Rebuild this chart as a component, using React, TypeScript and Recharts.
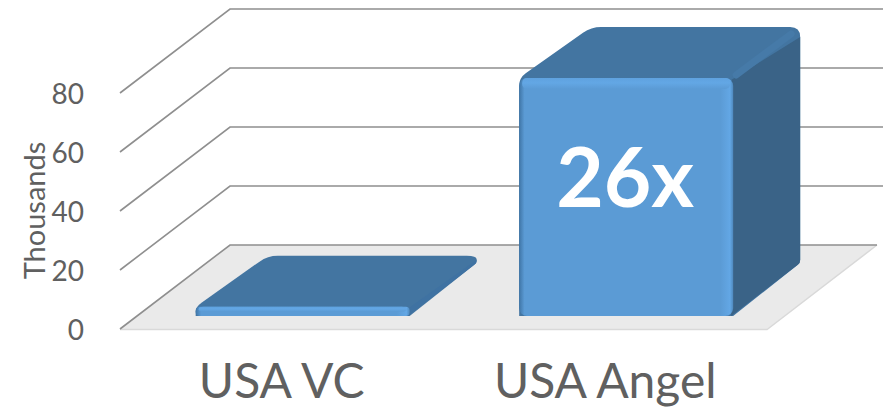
import { BarChart, Bar, XAxis, YAxis, Label } from "recharts";

const categories = ["USA VC", "USA Angel"];
const amounts = [3.1, 80.7];
const barLabels = ["", "26x"];
const yTicks = [0, 20, 40, 60, 80];

const chartData = categories.map((name, i) => ({
  name,
  amount: amounts[i],
  label: barLabels[i],
}));

const FONT = "Lato, 'Open Sans', sans-serif";
const TEXT_COLOR = "#606060";

// rounded polygon, used for the faces of the 3d box
function roundedPath(points: number[][], radii: number[]) {
  const n = points.length;
  let d = "";
  points.forEach((p, i) => {
    const prev = points[(i + n - 1) % n];
    const next = points[(i + 1) % n];
    const r = radii[i];
    const toward = (a: number[], b: number[]) => {
      const len = Math.hypot(b[0] - a[0], b[1] - a[1]) || 1;
      const k = Math.min(r, len / 2) / len;
      return [a[0] + (b[0] - a[0]) * k, a[1] + (b[1] - a[1]) * k];
    };
    const s = toward(p, prev);
    const e = toward(p, next);
    d += `${i === 0 ? "M" : "L"}${s[0]},${s[1]} Q${p[0]},${p[1]} ${e[0]},${e[1]} `;
  });
  return d + "Z";
}

function WallTick(props: any) {
  const { y, payload } = props;
  const isFloor = payload.value === 0;
  return (
    <g>
      {isFloor && (
        <>
          <polygon
            points={`120,${y} 230,${y - 84} 877,${y - 84} 767,${y}`}
            fill="#EAEAEA"
          />
          <polyline
            points={`120,${y + 0.5} 767,${y + 0.5} 877,${y - 84}`}
            fill="none"
            stroke="#D9D9D9"
            strokeWidth={1.5}
          />
        </>
      )}
      <polyline
        points={`120,${y} 230,${y - 84} ${isFloor ? 877 : 883},${y - 84}`}
        fill="none"
        stroke="#8F8F8F"
        strokeWidth={1.6}
      />
      <text
        x={84}
        y={y + 1}
        dy="0.35em"
        textAnchor="end"
        fontFamily={FONT}
        fontSize={28}
        fill={TEXT_COLOR}
      >
        {payload.value}
      </text>
    </g>
  );
}

function CategoryTick(props: any) {
  const { x, payload } = props;
  return (
    <text
      x={x}
      y={381}
      dy="0.35em"
      textAnchor="middle"
      fontFamily={FONT}
      fontSize={48}
      fill={TEXT_COLOR}
    >
      {payload.value}
    </text>
  );
}

function Box3D(props: any) {
  const { x, y, width, height, payload } = props;
  // the box stands part way into the floor
  const fx = x + 21;
  const fy = y - 13;
  const right = fx + width;
  const bottom = fy + height;
  const band = Math.min(11, height * 0.5);
  const tall = height > 30;

  const outline = [
    [fx, fy],
    [fx + 72, fy - 51],
    [right + 67, fy - 51],
    [right + 67, bottom - 53],
    [right, bottom],
    [fx, bottom],
  ];
  const sideFace = [
    [right - 2, fy + 2],
    [right + 67, tall ? fy - 41 : fy - 47],
    [right + 67, bottom - 53],
    [right - 2, bottom],
  ];

  return (
    <g>
      <path d={roundedPath(outline, [8, 10, 10, 3, 0, 0])} fill="#4375A1" />
      <path d={roundedPath(sideFace, [0, 0, 3, 0])} fill={tall ? "#3A6387" : "#3F72A2"} />
      {tall && (
        <line
          x1={right + 3}
          y1={fy - 3}
          x2={right + 58}
          y2={fy - 44}
          stroke="#467AA8"
          strokeWidth={7}
          strokeLinecap="round"
        />
      )}
      <rect x={fx} y={fy} width={width} height={height} rx={tall ? 8 : 4} fill="url(#frontFace)" />
      <rect x={fx + 3} y={fy} width={width - 6} height={band} rx={5} fill="url(#frontTop)" />
      {payload.label && (
        <text
          x={fx + width / 2 - 1}
          y={fy + 100}
          dy="0.35em"
          textAnchor="middle"
          fontFamily={FONT}
          fontWeight={700}
          fontSize={82}
          fill="#FFFFFF"
        >
          {payload.label}
        </text>
      )}
    </g>
  );
}

export default function App() {
  return (
    <div style={{ position: "absolute", left: 0, top: 0, width: 883, height: 407, background: "#fff" }}>
      {/* walls, floor and axis text; recharts paints axes over bars, so bars get their own layer */}
      <div style={{ position: "absolute", left: 0, top: 0 }}>
        <BarChart
          width={883}
          height={407}
          data={chartData}
          margin={{ top: 34, right: 116, bottom: 0, left: 0 }}
        >
          <YAxis
            type="number"
            width={120}
            domain={[0, 100]}
            ticks={yTicks}
            interval={0}
            axisLine={false}
            tickLine={false}
            tick={<WallTick />}
          >
            <Label
              value="Thousands"
              angle={-90}
              position="insideLeft"
              dx={30}
              dy={29}
              style={{ fontFamily: FONT, fontSize: 29, fill: TEXT_COLOR, textAnchor: "middle" }}
            />
          </YAxis>
          <XAxis
            dataKey="name"
            height={78}
            axisLine={false}
            tickLine={false}
            interval={0}
            tick={<CategoryTick />}
          />
          <Bar dataKey="amount" fill="none" isAnimationActive={false} />
        </BarChart>
      </div>
      <div style={{ position: "absolute", left: 0, top: 0 }}>
        <BarChart
          width={883}
          height={407}
          data={chartData}
          margin={{ top: 34, right: 116, bottom: 78, left: 120 }}
          barCategoryGap="16.9%"
        >
          <defs>
            <linearGradient id="frontFace" x1="0" y1="0" x2="1" y2="0">
              <stop offset="0" stopColor="#3F75A6" />
              <stop offset="0.025" stopColor="#5B9BD5" />
              <stop offset="0.94" stopColor="#5B9BD5" />
              <stop offset="0.985" stopColor="#63A7E5" />
              <stop offset="1" stopColor="#4F89BD" />
            </linearGradient>
            <linearGradient id="frontTop" x1="0" y1="0" x2="0" y2="1">
              <stop offset="0" stopColor="#5FA2DF" />
              <stop offset="0.45" stopColor="#63A7E5" />
              <stop offset="1" stopColor="#5B9BD5" />
            </linearGradient>
          </defs>
          <YAxis hide type="number" domain={[0, 100]} />
          <XAxis hide dataKey="name" />
          <Bar dataKey="amount" isAnimationActive={false} shape={<Box3D />} />
        </BarChart>
      </div>
    </div>
  );
}
